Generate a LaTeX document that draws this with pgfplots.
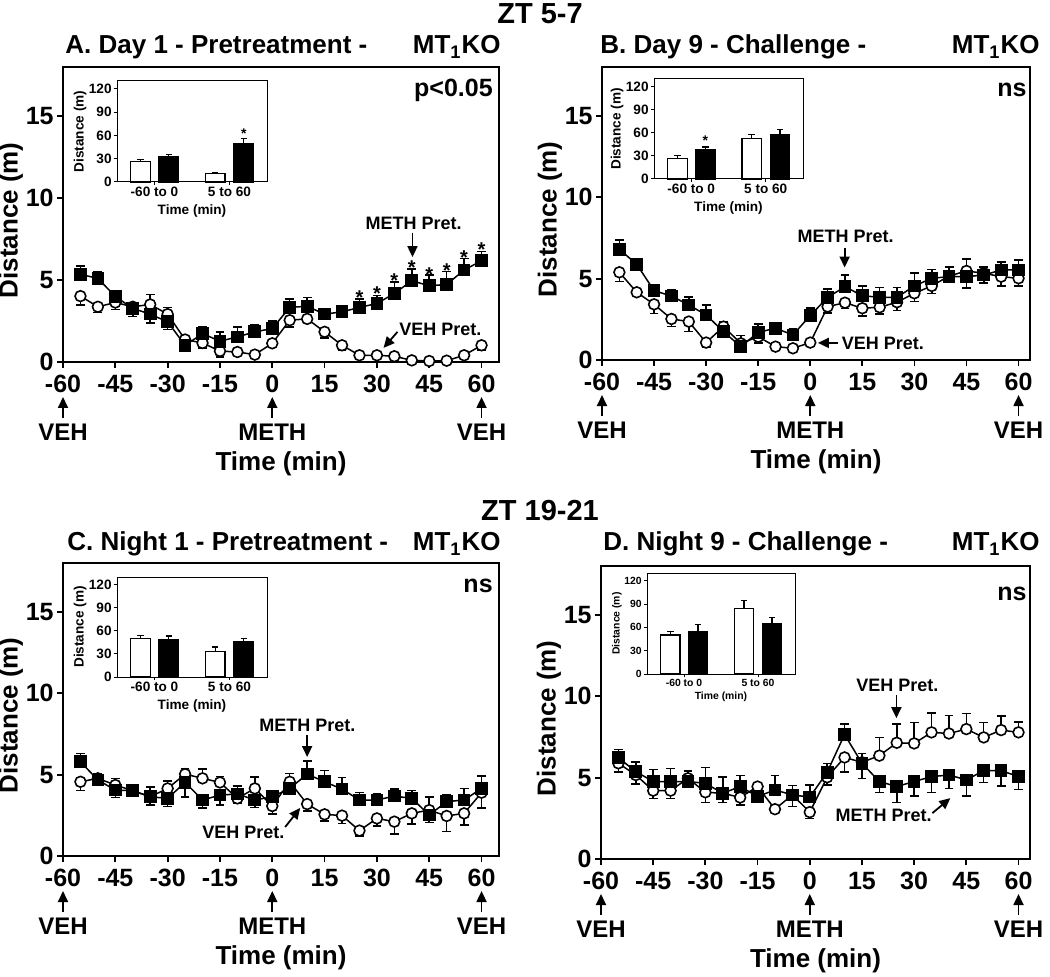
\documentclass[border=0pt]{standalone}
\usepackage{fontspec}
\setmainfont{Liberation Sans}
\usepackage{pgfplots}
\pgfplotsset{compat=1.18}
\usepackage{pgfplotstable}
\usetikzlibrary{arrows.meta}

% t, VEH pret. (value, err+, err-), METH pret. (value, err+, err-)
\pgfplotstableread{
t veh vep vem meth mep mem
-55 4.02 0 0.55 5.35 0.5 0
-50 3.37 0 0.35 5.10 0.4 0
-45 3.63 0 0.43 4.00 0.35 0.2
-40 3.37 0.2 0 3.27 0 0.5
-35 3.51 0.6 0 2.92 0 0.55
-30 2.92 0.4 0 2.45 0 0.47
-25 1.37 0.25 0 1.02 0 0.35
-20 1.16 0 0.3 1.73 0.4 0
-15 0.67 0 0.35 1.27 0.55 0
-10 0.61 0 0.1 1.53 0.6 0
-5 0.45 0 0.1 1.84 0.45 0
0 1.14 0 0.1 2.04 0.47 0
5 2.55 0 0.4 3.33 0.5 0
10 2.63 0 0.1 3.40 0.55 0
15 1.84 0 0.37 2.92 0.35 0
20 1.02 0 0.3 3.06 0.4 0
25 0.41 0 0.1 3.33 0.5 0
30 0.41 0 0.1 3.57 0.5 0
35 0.35 0 0.1 4.18 0.7 0
40 0.10 0 0.05 4.96 0.7 0
45 0.06 0 0.05 4.65 0.65 0
50 0.08 0 0.05 4.73 0.8 0
55 0.41 0 0.1 5.61 0.7 0
60 1.02 0 0.3 6.18 0.55 0
}\dataA

\pgfplotstableread{
t veh vep vem meth mep mem
-55 5.39 0 0.57 6.80 0.57 0
-50 4.16 0 0.2 5.88 0.2 0
-45 3.42 0 0.55 4.26 0.35 0
-40 2.52 0 0.47 3.93 0.37 0
-35 2.36 0 0.6 3.38 0.5 0
-30 1.07 0 0.3 2.77 0.6 0
-25 2.05 0.3 0 1.74 0 0.3
-20 1.02 0.5 0 0.82 0.3 0
-15 1.43 0 0.4 1.70 0.5 0
-10 0.82 0 0.1 1.95 0.3 0
-5 0.72 0 0.1 1.54 0.35 0
0 1.07 0 0.1 2.73 0.45 0
5 3.28 0 0.4 3.85 0.5 0
10 3.52 0 0.35 4.50 0.72 0
15 3.18 0 0.47 3.95 0.6 0
20 3.24 0 0.4 3.85 0.6 0
25 3.55 0 0.5 3.85 0.6 0
30 4.10 0 0.5 4.55 0.78 0
35 4.55 0 0.45 5.02 0.55 0
40 5.16 0 0.3 5.12 0.6 0
45 5.47 0.72 0 5.12 0 0.7
50 5.33 0 0.3 5.22 0.5 0.5
55 5.12 0 0.57 5.53 0.5 0
60 5.02 0 0.47 5.53 0.6 0
}\dataB

\pgfplotstableread{
t veh vep vem meth mep mem
-55 4.56 0 0.55 5.79 0.5 0
-50 4.77 0 0.2 4.67 0.4 0
-45 4.36 0.4 0 4.05 0 0.45
-40 4.01 0.1 0 4.01 0 0.1
-35 3.64 0 0.1 3.64 0.6 0.5
-30 4.15 0.45 0 3.54 0 0.5
-25 5.03 0.35 0 4.52 0 0.9
-20 4.77 0.57 0 3.44 0 0.5
-15 4.52 0.35 0 3.74 0 0.6
-10 3.54 0 0.3 3.81 0.5 0
-5 4.15 0.7 0 3.44 0 0.45
0 3.07 0 0.5 3.64 0.2 0
5 4.56 0.5 0 4.15 0.2 0
10 3.19 0 0.43 5.03 0.8 0
15 2.56 0 0.4 4.56 0.7 0
20 2.48 0 0.47 4.11 0.7 0
25 1.56 0 0.33 3.44 0.45 0
30 2.31 0 0.47 3.44 0.4 0
35 2.11 0 0.75 3.68 0.45 0
40 2.62 0 0.65 3.54 0.47 0
45 2.82 0.8 0 2.52 0 0.47
50 2.46 0 0.95 3.34 0.45 0
55 2.62 0 0.72 3.44 0.7 0
60 3.89 0 0.95 4.15 0.75 0
}\dataC

\pgfplotstableread{
t veh vep vem meth mep mem
-55 5.88 0 0.55 6.22 0.5 0
-50 5.16 0 0.55 5.37 0.6 0
-45 4.20 0 0.47 4.76 0.75 0
-40 4.20 0 0.47 4.76 0.8 0
-35 4.96 0.1 0 4.76 0.65 0
-30 4.10 0 0.63 4.65 0.97 0
-25 4.04 0 0.57 4.04 1.0 0
-20 3.78 0 0.45 4.45 0.67 0
-15 4.45 0.1 0 3.84 0.1 0
-10 3.06 0 0.2 4.24 0.9 0
-5 3.94 0 0.7 3.94 0.57 0
0 2.88 0 0.4 3.80 0.75 0
5 5.02 0 0.47 5.33 0.55 0
10 6.24 0 0.88 7.65 0.63 0
15 5.94 0 0.98 5.88 0.6 0
20 6.35 1.12 0 4.76 0 0.67
25 7.14 1.14 0 4.45 0 0.97
30 7.10 1.29 0 4.76 0 0.88
35 7.78 1.20 0 5.06 0 0.98
40 7.71 1.12 0 5.16 0 0.82
45 7.98 0.96 0 4.86 0 0.98
50 7.47 0.92 0 5.43 0 0.73
55 7.92 0.86 0 5.43 0 0.94
60 7.78 0.65 0 5.06 0 0.78
}\dataD

\newcommand{\fs}[1]{\fontsize{#1}{#1}\selectfont\bfseries}

\pgfplotsset{
  mainax/.style={
    anchor=south west, scale only axis, clip=false,
    xmin=-60, ymin=0, ymax=18,
    axis line style={line width=0.9pt},
    tick style={line width=0.9pt, black},
    tick align=outside, major tick length=3pt, tick pos=left,
    xtick={-60,-45,-30,-15,0,15,30,45,60},
    xticklabels={-60,-45,-30,-15,0,15,30,45,60},
    ytick={0,5,10,15}, yticklabels={0,5,10,15},
    ticklabel style={font=\fs{12.5}},
    yticklabel style={inner sep=1.5pt},
    xlabel={Time (min)}, ylabel={Distance (m)},
    label style={font=\fs{13}},
    xlabel style={at={(axis description cs:0.5,0)}, anchor=center, yshift=-51pt},
    ylabel style={at={(axis description cs:0,0.48)}, anchor=center, yshift=26pt},
  },
  errs/.style={black, only marks, mark=none, forget plot,
    error bars/.cd, y dir=both, y explicit,
    error bar style={line width=0.75pt, black},
    error mark options={rotate=90, line width=0.75pt, mark size=2.2pt, black}},
  vehline/.style={black, line width=0.75pt, mark=*, mark size=2.7pt,
    mark options={fill=white, line width=0.8pt}},
  methline/.style={black, line width=0.75pt, mark=square*, mark size=2.8pt,
    mark options={fill=black}},
  inset/.style={
    anchor=south west, scale only axis, clip=false,
    xmin=0, xmax=4, ymin=0, ymax=130,
    axis line style={line width=0.5pt},
    tick style={line width=0.5pt, black},
    tick align=outside, major tick length=1.5pt, tick pos=left,
    xtick={1,3}, xticklabels={-60 to 0, 5 to 60},
    ytick={0,30,60,90,120}, yticklabels={0,30,60,90,120},
    ticklabel style={font=\fs{6.8}, inner sep=1pt},
    xlabel={Time (min)}, ylabel={Distance (m)},
    label style={font=\fs{6.8}},
    xlabel style={at={(axis description cs:0.5,0)}, anchor=center, yshift=-14.5pt},
    ylabel style={at={(axis description cs:0,0.5)}, anchor=center, yshift=18.5pt},
  },
  openbar/.style={ybar, bar width=0.52, bar shift=0pt, fill=white, draw=black, line width=0.6pt,
    error bars/.cd, y dir=plus, y explicit,
    error bar style={line width=0.6pt, black},
    error mark options={rotate=90, line width=0.6pt, mark size=1.6pt, black}},
  fillbar/.style={ybar, bar width=0.52, bar shift=0pt, fill=black, draw=black, line width=0.6pt,
    error bars/.cd, y dir=plus, y explicit,
    error bar style={line width=0.6pt, black},
    error mark options={rotate=90, line width=0.6pt, mark size=1.6pt, black}},
}

\tikzset{note/.style={font=\fs{9}, inner sep=0pt},
  arr/.style={-{Triangle[length=5.5pt,width=5pt]}, line width=0.9pt},
  star/.style={font=\fs{10}, anchor=base, inner sep=0pt}}

\newcommand{\bottomnotes}{%
  \draw[arr] ([yshift=-28pt]axis cs:-60,0) -- ([yshift=-17.5pt]axis cs:-60,0);
  \draw[arr] ([yshift=-28pt]axis cs:0,0) -- ([yshift=-17.5pt]axis cs:0,0);
  \draw[arr] ([yshift=-28pt]axis cs:60,0) -- ([yshift=-17.5pt]axis cs:60,0);
  \node[font=\fs{12}] at ([yshift=-35pt]axis cs:-60,0) {VEH};
  \node[font=\fs{12}] at ([yshift=-35pt]axis cs:0,0) {METH};
  \node[font=\fs{12}] at ([yshift=-35pt]axis cs:60,0) {VEH};
}

\begin{document}
\begin{tikzpicture}

% ---------- A ----------
\begin{axis}[mainax, at={(31.5pt,307pt)}, width=218pt, height=147.5pt, xmax=65]
\addplot[errs] table[x=t, y=veh, y error plus=vep, y error minus=vem] {\dataA};
\addplot[vehline] table[x=t, y=veh] {\dataA};
\addplot[errs] table[x=t, y=meth, y error plus=mep, y error minus=mem] {\dataA};
\addplot[methline] table[x=t, y=meth] {\dataA};
\bottomnotes
\node[font=\fs{12.5}, anchor=east, inner sep=0pt] at (axis cs:63.3,16.6) {p<0.05};
\node[note] at (axis cs:40.5,8.45) {METH Pret.};
\draw[arr] (axis cs:40.2,7.9) -- (axis cs:40.2,6.4);
\node[note] at (axis cs:48.2,1.96) {VEH Pret.};
\draw[arr] (axis cs:35.9,1.84) -- (axis cs:31.9,0.86);
\node[star] at (axis cs:25,3.52) {*};
\node[star] at (axis cs:30,3.77) {*};
\node[star] at (axis cs:35,4.57) {*};
\node[star] at (axis cs:40,5.36) {*};
\node[star] at (axis cs:45,4.93) {*};
\node[star] at (axis cs:50,5.18) {*};
\node[star] at (axis cs:55,5.97) {*};
\node[star] at (axis cs:60,6.46) {*};
\end{axis}

% ---------- B ----------
\begin{axis}[mainax, at={(301pt,308pt)}, width=214pt, height=146.5pt, xmax=63.3]
\addplot[errs] table[x=t, y=veh, y error plus=vep, y error minus=vem] {\dataB};
\addplot[vehline] table[x=t, y=veh] {\dataB};
\addplot[errs] table[x=t, y=meth, y error plus=mep, y error minus=mem] {\dataB};
\addplot[methline] table[x=t, y=meth] {\dataB};
\bottomnotes
\node[font=\fs{12.5}, anchor=east, inner sep=0pt] at (axis cs:62.4,16.6) {ns};
\node[note] at (axis cs:10.2,7.6) {METH Pret.};
\draw[arr] (axis cs:9.9,6.91) -- (axis cs:9.9,5.68);
\node[note] at (axis cs:20.9,1.05) {VEH Pret.};
\draw[arr] (axis cs:7.9,1.05) -- (axis cs:2.2,1.05);
\end{axis}

% ---------- C ----------
\begin{axis}[mainax, at={(31.5pt,60pt)}, width=218pt, height=146.5pt, xmax=65]
\addplot[errs] table[x=t, y=veh, y error plus=vep, y error minus=vem] {\dataC};
\addplot[vehline] table[x=t, y=veh] {\dataC};
\addplot[errs] table[x=t, y=meth, y error plus=mep, y error minus=mem] {\dataC};
\addplot[methline] table[x=t, y=meth] {\dataC};
\bottomnotes
\node[font=\fs{12.5}, anchor=east, inner sep=0pt] at (axis cs:63.3,16.6) {ns};
\node[note] at (axis cs:10.05,8.05) {METH Pret.};
\draw[arr] (axis cs:10,7.44) -- (axis cs:10,6.08);
\node[note] at (axis cs:-8.3,1.48) {VEH Pret.};
\draw[arr] (axis cs:3.7,1.78) -- (axis cs:8.0,2.95);
\end{axis}

% ---------- D ----------
\begin{axis}[mainax, at={(300.5pt,58.5pt)}, width=214.5pt, height=146.5pt, xmax=63.3]
\addplot[errs] table[x=t, y=veh, y error plus=vep, y error minus=vem] {\dataD};
\addplot[vehline] table[x=t, y=veh] {\dataD};
\addplot[errs] table[x=t, y=meth, y error plus=mep, y error minus=mem] {\dataD};
\addplot[methline] table[x=t, y=meth] {\dataD};
\bottomnotes
\node[font=\fs{12.5}, anchor=east, inner sep=0pt] at (axis cs:62.4,16.3) {ns};
\node[note] at (axis cs:25.2,10.67) {VEH Pret.};
\draw[arr] (axis cs:24.9,10.06) -- (axis cs:24.9,8.65);
\node[note] at (axis cs:21.2,2.7) {METH Pret.};
\draw[arr] (axis cs:35.25,2.82) -- (axis cs:40.4,3.74);
\end{axis}

% ---------- insets ----------
\begin{axis}[inset, at={(58.5pt,397pt)}, width=75pt, height=50.5pt]
\addplot[openbar] coordinates {(0.63,26.8) +- (0,2.6) (2.62,10.8) +- (0,1.7)};
\addplot[fillbar] coordinates {(1.38,32.4) +- (0,3.4) (3.38,50.0) +- (0,5.7)};
\node[font=\fs{7}, anchor=base, inner sep=0pt] at (axis cs:3.38,56.5) {*};
\end{axis}

\begin{axis}[inset, at={(327pt,398.5pt)}, width=74.5pt, height=50pt]
\addplot[openbar] coordinates {(0.63,27.0) +- (0,3.4) (2.62,52.2) +- (0,5.2)};
\addplot[fillbar] coordinates {(1.38,38.3) +- (0,3.4) (3.38,57.4) +- (0,7.4)};
\node[font=\fs{7}, anchor=base, inner sep=0pt] at (axis cs:1.38,43) {*};
\end{axis}

\begin{axis}[inset, at={(58.5pt,149.5pt)}, width=75pt, height=50pt]
\addplot[openbar] coordinates {(0.63,50.3) +- (0,3.9) (2.62,33.1) +- (0,6.0)};
\addplot[fillbar] coordinates {(1.38,48.2) +- (0,5.1) (3.38,45.6) +- (0,4.7)};
\end{axis}

\begin{axis}[inset, at={(323.5pt,151pt)}, width=74pt, height=50.5pt,
  ticklabel style={font=\fs{5.2}}, label style={font=\fs{5.2}},
  xlabel style={yshift=3pt}, ylabel style={yshift=-3.5pt}]
\addplot[openbar] coordinates {(0.63,50.3) +- (0,4.3) (2.62,84.3) +- (0,9.9)};
\addplot[fillbar] coordinates {(1.38,55.0) +- (0,8.7) (3.38,64.5) +- (0,7.8)};
\end{axis}

% ---------- titles ----------
\begin{scope}[x=0.5pt, y=-0.5pt, yshift=488pt]
\node[font=\fs{14.5}] at (540,14) {ZT 5-7};
\node[font=\fs{14.5}] at (540,511) {ZT 19-21};
\node[font=\fs{13}, anchor=base west, inner sep=0pt] at (65,54) {A. Day 1 - Pretreatment -};
\node[font=\fs{13}, anchor=base east, inner sep=0pt] at (501,54) {MT\textsubscript{1}KO};
\node[font=\fs{13}, anchor=base west, inner sep=0pt] at (600,54) {B. Day 9 - Challenge -};
\node[font=\fs{13}, anchor=base east, inner sep=0pt] at (1040,54) {MT\textsubscript{1}KO};
\node[font=\fs{13}, anchor=base west, inner sep=0pt] at (67,551) {C. Night 1 - Pretreatment -};
\node[font=\fs{13}, anchor=base east, inner sep=0pt] at (501,551) {MT\textsubscript{1}KO};
\node[font=\fs{13}, anchor=base west, inner sep=0pt] at (603,551) {D. Night 9 - Challenge -};
\node[font=\fs{13}, anchor=base east, inner sep=0pt] at (1040,551) {MT\textsubscript{1}KO};
\end{scope}

\pgfresetboundingbox
\path (0,0) rectangle (525pt,488pt);
\end{tikzpicture}
\end{document}
